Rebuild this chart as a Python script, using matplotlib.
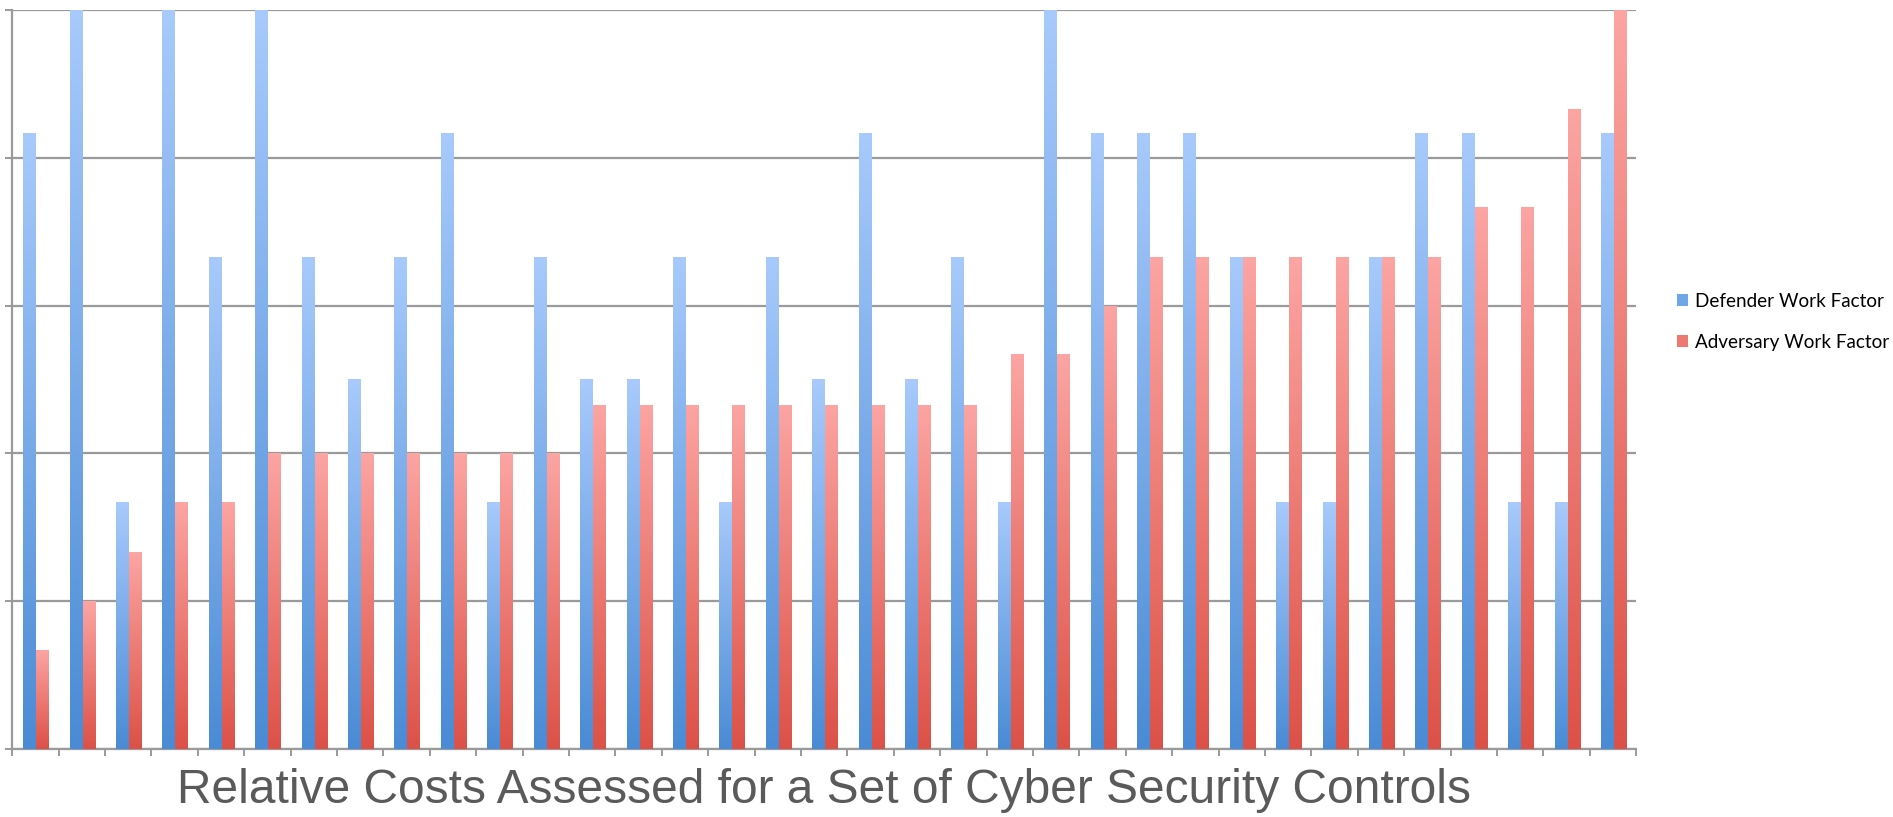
import numpy as np
import matplotlib.pyplot as plt
from matplotlib.colors import LinearSegmentedColormap
from matplotlib.patches import Patch

# relative work factors per control (0-5 scale)
defender = [4.17, 5, 1.67, 5, 3.33, 5, 3.33, 2.5, 3.33, 4.17,
            1.67, 3.33, 2.5, 2.5, 3.33, 1.67, 3.33, 2.5, 4.17, 2.5,
            3.33, 1.67, 5, 4.17, 4.17, 4.17, 3.33, 1.67, 1.67, 3.33,
            4.17, 4.17, 1.67, 1.67, 4.17]
adversary = [0.67, 1, 1.33, 1.67, 1.67, 2, 2, 2, 2, 2,
             2, 2, 2.33, 2.33, 2.33, 2.33, 2.33, 2.33, 2.33, 2.33,
             2.33, 2.67, 2.67, 3, 3.33, 3.33, 3.33, 3.33, 3.33, 3.33,
             3.33, 3.67, 3.67, 4.33, 5]
series_names = ["Defender Work Factor", "Adversary Work Factor"]
title = "Relative Costs Assessed for a Set of Cyber Security Controls"

blue_cmap = LinearSegmentedColormap.from_list("b", ["#4a8bd5", "#a8cafc"])
red_cmap = LinearSegmentedColormap.from_list("r", ["#dc5147", "#fca5a3"])

fig = plt.figure(figsize=(18.93, 8.17), dpi=100)
ax = fig.add_axes([0.0064, 0.0833, 0.858, 0.9045])

x = np.arange(len(defender))
w = 0.28
grad = np.linspace(0, 1, 256).reshape(-1, 1)

def gradient_bars(xs, vals, cmap):
    bars = ax.bar(xs, vals, width=w, color="none", edgecolor="none", zorder=3)
    for b in bars:
        bx, by = b.get_x(), b.get_y()
        im = ax.imshow(grad, cmap=cmap, origin="lower", aspect="auto",
                       extent=[bx, bx + b.get_width(), by, by + b.get_height()],
                       zorder=3, interpolation="bilinear")
        im.set_clip_path(b)

gradient_bars(x - w / 2 + 0.02, defender, blue_cmap)
gradient_bars(x + w / 2 + 0.02, adversary, red_cmap)

ax.set_xlim(-0.5, len(defender) - 0.5)
ax.set_ylim(0, 5)
ax.set_yticks(np.arange(0, 6))
ax.set_yticklabels([])
ax.set_xticks(np.arange(-0.5, len(defender), 1.0))
ax.set_xticklabels([])
ax.yaxis.grid(True, color="#9a9a9a", linewidth=1.6, zorder=1)
ax.set_axisbelow(True)
for s in ["top", "right"]:
    ax.spines[s].set_visible(False)
for s in ["left", "bottom"]:
    ax.spines[s].set_color("#9a9a9a")
    ax.spines[s].set_linewidth(1.6)
ax.tick_params(axis="both", length=5, width=1.4, color="#9a9a9a")

ax.set_xlabel(title, fontsize=34.5, color="#5a5a5a", family="Liberation Sans",
              labelpad=5)

handles = [Patch(facecolor="#6fa6e8", edgecolor="none"),
           Patch(facecolor="#ec7a72", edgecolor="none")]
fig.legend(handles, series_names, loc="center left",
           bbox_to_anchor=(0.877, 0.606), frameon=False,
           prop={"family": "Lato", "size": 13.6}, handlelength=0.6,
           handleheight=0.6, handletextpad=0.35, labelspacing=1.25)

fig.savefig("out.png", dpi=100)
